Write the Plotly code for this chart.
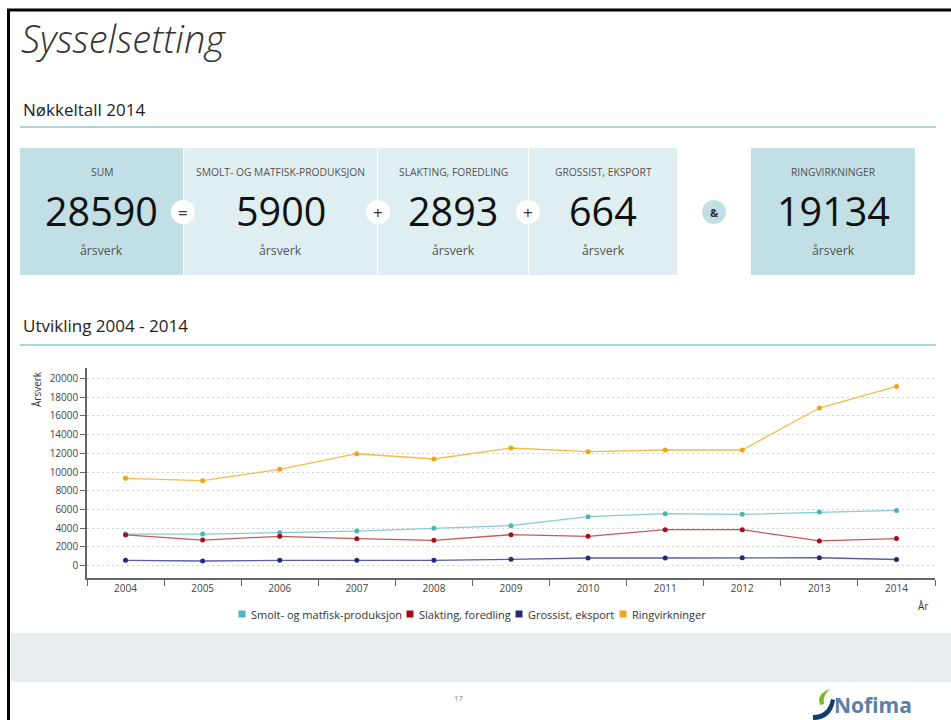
import plotly.graph_objects as go

# ---------------- data ----------------
years = ["2004", "2005", "2006", "2007", "2008", "2009", "2010", "2011", "2012", "2013", "2014"]
smolt = [3380, 3380, 3520, 3700, 3990, 4270, 5230, 5550, 5480, 5730, 5900]
slakting = [3280, 2740, 3140, 2880, 2710, 3310, 3140, 3840, 3840, 2640, 2893]
grossist = [570, 500, 570, 570, 570, 680, 820, 820, 850, 850, 664]
ringvirkninger = [9330, 9070, 10290, 11950, 11390, 12560, 12170, 12350, 12350, 16830, 19134]

series_names = ["Smolt- og matfisk-produksjon", "Slakting, foredling", "Grossist, eksport", "Ringvirkninger"]
y_ticks = [0, 2000, 4000, 6000, 8000, 10000, 12000, 14000, 16000, 18000, 20000]

kpi_labels = ["SUM", "SMOLT- OG MATFISK-PRODUKSJON", "SLAKTING, FOREDLING", "GROSSIST, EKSPORT", "RINGVIRKNINGER"]
kpi_values = ["28590", "5900", "2893", "664", "19134"]
kpi_unit = "årsverk"
operators = ["=", "+", "+", "&"]

# ---------------- styles ----------------
W, H = 951, 720
FONT = "Open Sans"
line_colors = ["#86ccd2", "#c55a57", "#5a5ea6", "#f3bb4c"]
marker_colors = ["#4cb3bc", "#a3121b", "#25297d", "#eea514"]
legend_colors = ["#4fb5be", "#9e0f16", "#25297d", "#f0a81c"]
dark_box = "#c1dfe4"
light_box = "#dfeff1"
rule_color = "#a9d6dc"

# box geometry in page pixels (x0, x1, fill)
boxes = [(20, 183, dark_box), (184, 377, light_box), (378, 528, light_box),
         (529, 677, light_box), (751, 915, dark_box)]
op_pos = [(183, "white"), (378, "white"), (528, "white"), (714, dark_box)]
BOX_TOP, BOX_BOT = 148, 275
# legend item positions (square x, text x) in page pixels
legend_pos = [(242, 249), (410, 417), (519, 526), (623, 630)]
LEGEND_Y = 614


def px(x):
    return x / W


def py(y):
    return 1 - y / H


fig = go.Figure()

series = [smolt, slakting, grossist, ringvirkninger]
for name, vals, lc, mc in zip(series_names, series, line_colors, marker_colors):
    fig.add_trace(go.Scatter(
        x=years, y=vals, mode="lines+markers", name=name, showlegend=False,
        line=dict(color=lc, width=1.3),
        marker=dict(color=mc, size=5),
    ))

shapes = []
annotations = []

# page border (top and left)
shapes.append(dict(type="line", xref="paper", yref="paper", x0=px(7), x1=px(951), y0=py(10), y1=py(10),
                   line=dict(color="black", width=3)))
shapes.append(dict(type="line", xref="paper", yref="paper", x0=px(8.5), x1=px(8.5), y0=py(9), y1=py(720),
                   line=dict(color="black", width=3)))

# title
annotations.append(dict(text="Sysselsetting", xref="paper", yref="paper", x=px(19), y=py(38),
                        xanchor="left", yanchor="middle", showarrow=False,
                        font=dict(family=FONT, size=38, color="#333", style="italic", weight=300)))

# section headers
for txt, ty, ly in [("Nøkkeltall 2014", 109, 127), ("Utvikling 2004 - 2014", 326, 345)]:
    annotations.append(dict(text=txt, xref="paper", yref="paper", x=px(21), y=py(ty),
                            xanchor="left", yanchor="middle", showarrow=False,
                            font=dict(family=FONT, size=17, color="#222")))
    shapes.append(dict(type="line", xref="paper", yref="paper", x0=px(20), x1=px(936), y0=py(ly), y1=py(ly),
                       line=dict(color=rule_color, width=2)))

# KPI boxes
for (x0, x1, fill), lab, val in zip(boxes, kpi_labels, kpi_values):
    shapes.append(dict(type="rect", xref="paper", yref="paper", x0=px(x0), x1=px(x1),
                       y0=py(BOX_BOT), y1=py(BOX_TOP), fillcolor=fill, line=dict(width=0), layer="below"))
    cx = px((x0 + x1) / 2)
    annotations.append(dict(text=lab, xref="paper", yref="paper", x=cx, y=py(172), showarrow=False,
                            xanchor="center", yanchor="middle",
                            font=dict(family=FONT, size=10.3, color="#555")))
    annotations.append(dict(text=val, xref="paper", yref="paper", x=cx, y=py(211), showarrow=False,
                            xanchor="center", yanchor="middle",
                            font=dict(family=FONT, size=39.5, color="#111")))
    annotations.append(dict(text=kpi_unit, xref="paper", yref="paper", x=cx, y=py(250), showarrow=False,
                            xanchor="center", yanchor="middle",
                            font=dict(family=FONT, size=12.3, color="#555")))

# operator circles
for (ox, oc), op in zip(op_pos, operators):
    r = 12
    shapes.append(dict(type="circle", xref="paper", yref="paper", x0=px(ox - r), x1=px(ox + r),
                       y0=py(212 + r), y1=py(212 - r), fillcolor=oc, line=dict(width=0)))
    annotations.append(dict(text=f"<b>{op}</b>" if op == "&" else op, xref="paper", yref="paper",
                            x=px(ox), y=py(212), showarrow=False, xanchor="center", yanchor="middle",
                            font=dict(family=FONT, size=17 if op != "&" else 11, color="#333")))

# axis titles
annotations.append(dict(text="Årsverk", xref="paper", yref="paper", x=px(37), y=py(369), textangle=-90,
                        showarrow=False, xanchor="center", yanchor="top",
                        font=dict(family=FONT, size=10, color="#333")))
annotations.append(dict(text="År", xref="paper", yref="paper", x=px(923), y=py(606), showarrow=False,
                        xanchor="center", yanchor="middle", font=dict(family=FONT, size=10, color="#333")))

# legend (square swatches + labels)
for (sx, tx), name, c in zip(legend_pos, series_names, legend_colors):
    shapes.append(dict(type="rect", xref="paper", yref="paper", x0=px(sx - 3.5), x1=px(sx + 3.5),
                       y0=py(LEGEND_Y + 3.5), y1=py(LEGEND_Y - 3.5), fillcolor=c, line=dict(width=0)))
    annotations.append(dict(text=name, xref="paper", yref="paper", x=px(tx), y=py(LEGEND_Y),
                            showarrow=False, xanchor="left", yanchor="middle",
                            font=dict(family=FONT, size=11, color="#333")))

# bottom grey band
shapes.append(dict(type="rect", xref="paper", yref="paper", x0=px(11), x1=px(951), y0=py(682), y1=py(633),
                   fillcolor="#e8edf0", line=dict(width=0), layer="below"))

# page number
annotations.append(dict(text="17", xref="paper", yref="paper", x=px(459), y=py(697), showarrow=False,
                        xanchor="center", yanchor="middle", font=dict(family=FONT, size=8, color="#888")))

# Nofima logo
annotations.append(dict(text="<b>Nofima</b>", xref="paper", yref="paper", x=px(832), y=py(705),
                        showarrow=False, xanchor="left", yanchor="middle",
                        font=dict(family=FONT, size=21, color="#5a80aa")))
shapes.append(dict(type="path", xref="paper", yref="paper",
                   path=f"M {px(830)},{py(689)} Q {px(816)},{py(694)} {px(820)},{py(705)} L {px(824)},{py(704)} Q {px(822)},{py(696)} {px(830)},{py(689)} Z",
                   fillcolor="#7ab929", line=dict(width=0)))
shapes.append(dict(type="path", xref="paper", yref="paper",
                   path=f"M {px(813)},{py(715)} Q {px(828)},{py(715)} {px(831)},{py(699)} L {px(835)},{py(700)} Q {px(832)},{py(720)} {px(813)},{py(720)} Z",
                   fillcolor="#12406e", line=dict(width=0)))

fig.update_layout(
    width=W, height=H,
    margin=dict(l=0, r=0, t=0, b=0),
    paper_bgcolor="white", plot_bgcolor="rgba(0,0,0,0)",
    font=dict(family=FONT, color="#333"),
    shapes=shapes, annotations=annotations,
    showlegend=False,
    xaxis=dict(type="category", range=[-0.5, 10.5], domain=[px(87), px(935)],
               showline=True, linecolor="#666", linewidth=1.5,
               ticks="outside", ticklen=6, tickcolor="#666", tickson="boundaries",
               showgrid=False, zeroline=False, tickfont=dict(size=10, color="#444")),
    yaxis=dict(range=[-1313, 21100], domain=[py(578), py(368)], tickvals=y_ticks,
               ticktext=[str(v) for v in y_ticks],
               showline=True, linecolor="#666", linewidth=1.5,
               ticks="outside", ticklen=5, tickcolor="#666",
               showgrid=True, gridcolor="#d2d2d2", griddash="2px,3px", gridwidth=1.2,
               zeroline=False, tickfont=dict(size=10, color="#444")),
)

fig.write_html("out.html", config={"displayModeBar": False},
               post_script="document.body.style.margin='0';document.body.style.overflow='hidden';")
